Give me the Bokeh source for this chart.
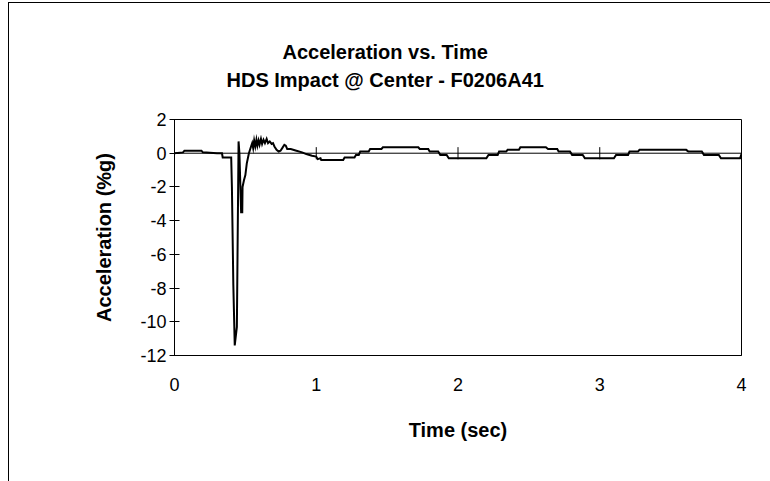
from bokeh.plotting import figure
from bokeh.models import Span, Title, FixedTicker, ColumnDataSource
from bokeh.embed import file_html
from bokeh.resources import INLINE

# ---- data ----
time_s = [0.00, 0.06, 0.07, 0.19, 0.20, 0.30, 0.335, 0.34, 0.40,
          0.405, 0.415, 0.425, 0.440, 0.452, 0.458, 0.470, 0.478, 0.480, 0.490, 0.500,
          0.510, 0.525, 0.540, 0.548, 0.555, 0.562, 0.570, 0.578, 0.585, 0.593, 0.600,
          0.610, 0.618, 0.628, 0.638, 0.650, 0.660, 0.672, 0.685, 0.695, 0.705, 0.720,
          0.735, 0.748, 0.760, 0.775, 0.785, 0.795, 0.820, 0.860, 0.900, 0.930, 0.970,
          1.000, 1.010, 1.030, 1.035, 1.190, 1.200, 1.270, 1.280, 1.300, 1.310, 1.370,
          1.380, 1.460, 1.470, 1.720, 1.730, 1.790, 1.800, 1.860, 1.875, 1.920, 1.935,
          2.200, 2.215, 2.280, 2.290, 2.340, 2.350, 2.430, 2.440, 2.620, 2.635, 2.700,
          2.710, 2.790, 2.805, 2.880, 2.895, 3.100, 3.115, 3.200, 3.210, 3.270, 3.280,
          3.610, 3.625, 3.720, 3.735, 3.840, 3.855, 3.990, 4.000, 4.080]
accel_g = [0.00, 0.05, 0.15, 0.15, 0.05, 0.00, 0.00, -0.25, -0.25,
           -2.0, -7.8, -11.4, -10.3, 0.7, 0.0, -3.5, -3.5, -2.0, -1.6, -1.3,
           -0.6, 0.0, 0.4, 0.6, 0.3, 0.75, 0.4, 0.8, 0.45, 0.75, 0.5,
           0.85, 0.55, 0.8, 0.6, 0.85, 0.6, 0.7, 0.55, 0.6, 0.4, 0.2,
           0.1, 0.15, 0.3, 0.5, 0.45, 0.25, 0.25, 0.15, 0.05, -0.05, -0.15,
           -0.2, -0.35, -0.3, -0.4, -0.4, -0.25, -0.25, -0.1, -0.1, 0.1, 0.1,
           0.25, 0.25, 0.35, 0.35, 0.25, 0.25, 0.1, 0.1, -0.1, -0.1, -0.3,
           -0.3, -0.1, -0.1, 0.1, 0.1, 0.2, 0.2, 0.35, 0.35, 0.25, 0.25,
           0.1, 0.1, -0.1, -0.1, -0.3, -0.3, -0.1, -0.1, 0.1, 0.1, 0.2,
           0.2, 0.1, 0.1, -0.1, -0.1, -0.3, -0.3, -0.05, -0.05]

x_ticks = [0, 1, 2, 3, 4]
y_ticks = [-12, -10, -8, -6, -4, -2, 0, 2]
inner_ticks = [1, 2, 3]

title_lines = ["Acceleration vs. Time", "HDS Impact @ Center - F0206A41"]
x_title = "Time (sec)"
y_title = "Acceleration (%g)"

FONT = "Liberation Sans"

p = figure(width=762, height=479, x_range=(0, 4), y_range=(-12, 2),
           output_backend="svg", toolbar_location=None,
           min_border_left=165, min_border_right=30,
           min_border_top=116, min_border_bottom=127)
p.margin = (2, 0, 0, 8)
p.styles = {"border-left": "1px solid #000000", "border-top": "1px solid #000000"}

p.background_fill_color = "white"
p.border_fill_color = "white"
p.outline_line_color = "black"
p.outline_line_width = 1
p.xgrid.visible = False
p.ygrid.visible = False

# axes
p.yaxis.ticker = FixedTicker(ticks=y_ticks)
p.xaxis.ticker = FixedTicker(ticks=x_ticks)
p.yaxis.major_label_overrides = {v: str(v) for v in y_ticks}
p.xaxis.major_label_overrides = {v: str(v) for v in x_ticks}
for ax in (p.xaxis[0], p.yaxis[0]):
    ax.axis_line_color = "black"
    ax.major_label_text_font = FONT
    ax.major_label_text_font_size = "18px"
    ax.major_label_text_color = "black"
    ax.minor_tick_line_color = None
    ax.axis_label_text_font = FONT
    ax.axis_label_text_font_style = "bold"
    ax.axis_label_text_font_size = "20px"
    ax.axis_label_text_color = "black"

p.yaxis.major_tick_in = 5
p.yaxis.major_tick_out = 5
p.yaxis.major_tick_line_color = "black"
p.yaxis.major_label_standoff = 3
p.yaxis.axis_label = y_title
p.yaxis.axis_label_standoff = 22

p.xaxis.major_tick_in = 0
p.xaxis.major_tick_out = 0
p.xaxis.major_label_standoff = 22
p.xaxis.axis_label = x_title
p.xaxis.axis_label_standoff = 25

# zero line with crossing tick marks
p.add_layout(Span(location=0, dimension="width", line_color="black", line_width=1))
src_t = ColumnDataSource(dict(x=inner_ticks, y0=[-0.36] * len(inner_ticks), y1=[0.36] * len(inner_ticks)))
p.segment(x0="x", y0="y0", x1="x", y1="y1", source=src_t, line_color="black", line_width=1)

# data line
p.line(time_s, accel_g, line_color="black", line_width=2, line_join="miter")

# spacer between frame and title block
p.add_layout(Title(text=" ", text_font_size="10px", standoff=14), "above")

# title: two lines, centred at x ~ 385 px (Arial/Liberation bold metrics)
TITLE_PX = 20
title_center_offset = 385 - 174
em_widths = [10.282, 15.868]
for txt, em, so in [(title_lines[1], em_widths[1], 4), (title_lines[0], em_widths[0], 4)]:
    off = int(round(title_center_offset - em * TITLE_PX / 2))
    p.add_layout(Title(text=txt, align="left", offset=off, standoff=so,
                       text_font=FONT, text_font_style="bold",
                       text_font_size=f"{TITLE_PX}px", text_color="black"), "above")

open("out.html", "w").write(file_html(p, INLINE))
